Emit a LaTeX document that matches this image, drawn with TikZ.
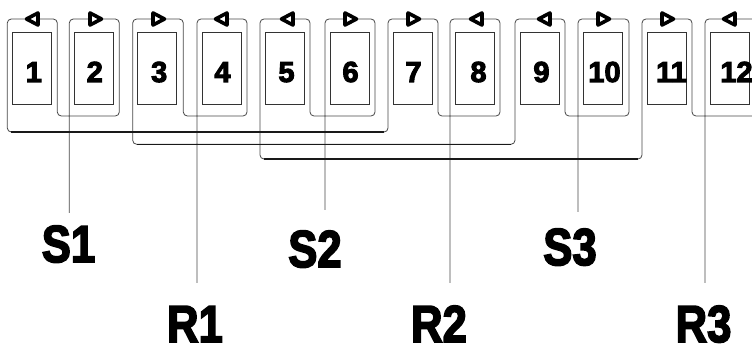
\documentclass[tikz,border=0pt]{standalone}
\usepackage{fontspec}
\setmainfont{Liberation Sans}
\newfontfamily\heavyfont{Liberation Sans Bold}[FakeBold=3.5]
\begin{document}
\begin{tikzpicture}[x=1pt,y=-1pt,
  coil/.style={draw=black!72,line width=0.8pt,rounded corners=4pt},
  bus/.style={draw=black!90,line width=1.3pt},
  slot/.style={draw=black!80,line width=0.8pt,minimum width=39pt,minimum height=72pt,inner sep=0pt},
  num/.style={font=\heavyfont\fontsize{29}{29}\selectfont,anchor=base,inner sep=0pt},
  lbl/.style={font=\heavyfont\fontsize{52}{52}\selectfont,anchor=base,inner sep=0pt},
  tipR/.pic={\draw[black,line width=3.6pt,line join=round,fill=white]
      (-5,-6) -- (6.5,0) -- (-5,6) -- cycle;},
  tipL/.pic={\draw[black,line width=3.6pt,line join=round,fill=white]
      (5,-6) -- (-6.5,0) -- (5,6) -- cycle;}
]
\useasboundingbox (0,0) rectangle (752,347);

% slots with their numbers (left edge of each coil, slot number, text shift)
\foreach \L/\n/\dx in {7.3/1/2, 69.3/2/1, 132.7/3/2, 197/4/1, 260/5/2, 325/6/1,
                        388/7/1, 450/8/4, 515/9/2, 578/10/2, 642/11/5, 705/12/7}{
  \node[slot] (slot\n) at (\L+24.5,68) {};
  \node[num] (num\n) at (\L+24.5+\dx,82) {\n};
}

% lead ends
\coordinate (s1end) at (69.3,213);
\coordinate (s2end) at (325,210);
\coordinate (s3end) at (578,212);
\coordinate (r1end) at (197,283);
\coordinate (r2end) at (450,283);
\coordinate (r3end) at (705,283);

% phase 1: S1 -> slots 2,1 -> slots 7,8 -> R2
\draw[coil] (s1end) -- (69.3,19) -- (119.3,19) -- (119.3,116) -- (57.3,116)
  -- (57.3,19) -- (7.3,19) -- (7.3,132) -- (388,132) -- (388,19) -- (438,19)
  -- (438,116) -- (500,116) -- (500,19) -- (450,19) -- (r2end);
% phase 2: S3 -> slots 10,9 -> slots 3,4 -> R1
\draw[coil] (s3end) -- (578,19) -- (629,19) -- (629,116) -- (565,116)
  -- (565,19) -- (515,19) -- (515,144.3) -- (132.7,144.3) -- (132.7,19)
  -- (183.3,19) -- (183.3,116) -- (247,116) -- (247,19) -- (197,19) -- (r1end);
% phase 3: S2 -> slots 6,5 -> slots 11,12 -> R3
\draw[coil] (s2end) -- (325,19) -- (375,19) -- (375,116) -- (310,116)
  -- (310,19) -- (260,19) -- (260,159) -- (642,159) -- (642,19) -- (692,19)
  -- (692,116) -- (756,116) -- (756,19) -- (705,19) -- (r3end);

% heavier connecting runs
\draw[bus] (11.3,132) -- (384,132);
\draw[bus] (136.7,144.3) -- (511,144.3);
\draw[bus] (264,159) -- (638,159);

% direction marks on the coil heads
\foreach \x in {33,222,288,477,545,730} \pic at (\x,19) {tipL};
\foreach \x in {95,158,350,413,603,667} \pic at (\x,19) {tipR};

% terminal labels
\node[lbl] (s1) at (68.5,262) {\scalebox{0.84}[1]{S1}};
\node[lbl] (s2) at (315,267) {\scalebox{0.84}[1]{S2}};
\node[lbl] (s3) at (570,265) {\scalebox{0.84}[1]{S3}};
\node[lbl] (r1) at (195,342) {\scalebox{0.84}[1]{R1}};
\node[lbl] (r2) at (439,342) {\scalebox{0.84}[1]{R2}};
\node[lbl] (r3) at (703.5,342) {\scalebox{0.84}[1]{R3}};
\end{tikzpicture}
\end{document}
